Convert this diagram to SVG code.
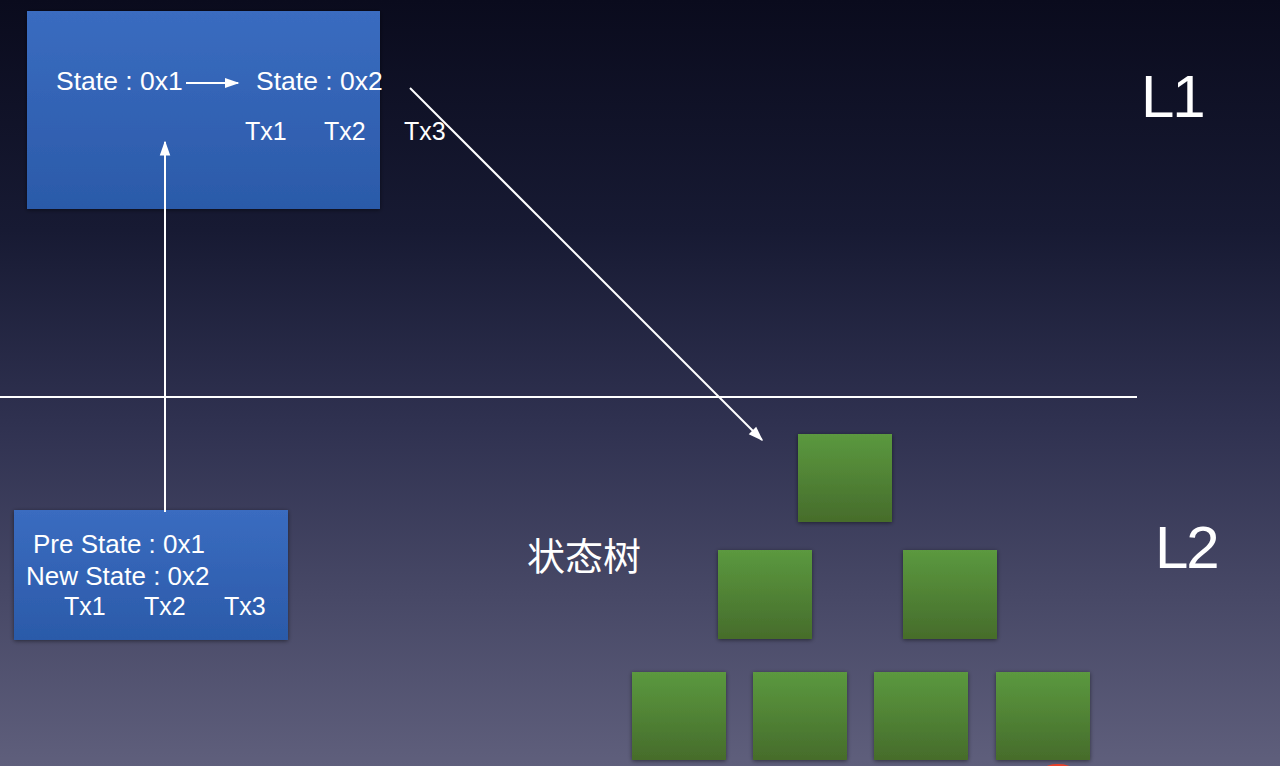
<svg xmlns="http://www.w3.org/2000/svg" width="1280" height="766" viewBox="0 0 1280 766">
<defs>
<linearGradient id="bg" x1="0" y1="0" x2="0" y2="1">
<stop offset="0" stop-color="#0a0b1d"/>
<stop offset="0.3" stop-color="#171a33"/>
<stop offset="0.55" stop-color="#2f3150"/>
<stop offset="1" stop-color="#5f5f7c"/>
</linearGradient>
<linearGradient id="blue" x1="0" y1="0" x2="0" y2="1">
<stop offset="0" stop-color="#3a6cc0"/>
<stop offset="1" stop-color="#2b5aa9"/>
</linearGradient>
<linearGradient id="green" x1="0" y1="0" x2="0" y2="1">
<stop offset="0" stop-color="#5b993f"/>
<stop offset="1" stop-color="#466c2b"/>
</linearGradient>
<filter id="sh" x="-20%" y="-20%" width="140%" height="140%">
<feDropShadow dx="0" dy="1" stdDeviation="2" flood-color="#000" flood-opacity="0.5"/>
</filter>
<marker id="ah2" viewBox="0 0 10 10" refX="9" refY="5" markerWidth="15" markerHeight="15" markerUnits="userSpaceOnUse" orient="auto">
<path d="M0,1.5 L10,5 L0,8.5 z" fill="#ffffff"/>
</marker>
<style>
.t{font-family:"Liberation Sans",Arial,sans-serif;fill:#ffffff;font-size:25px}
.s{font-size:26.5px}
.p{font-size:26px}
.big{font-family:"Liberation Sans",Arial,sans-serif;fill:#ffffff;font-size:60px;letter-spacing:-2px}
.cjk{font-family:"Noto Sans CJK SC",sans-serif;fill:#ffffff;font-size:38px}
.box{fill:url(#blue);filter:url(#sh)}
.leaf{fill:url(#green);filter:url(#sh)}
.ln{stroke:#ffffff;stroke-width:2;fill:none}
</style>
</defs>
<rect x="0" y="0" width="1280" height="766" fill="url(#bg)"/>

<g id="l1-box">
<rect class="box" x="27" y="11" width="353" height="198"/>
<text class="t s" x="56" y="90">State : 0x1</text>
<text class="t s" x="256" y="90">State : 0x2</text>
<text class="t" x="245" y="140">Tx1</text>
<text class="t" x="324" y="140">Tx2</text>
<text class="t" x="404" y="140">Tx3</text>
</g>

<g id="l2-box">
<rect class="box" x="14" y="510" width="274" height="130"/>
<text class="t p" x="33" y="553">Pre State : 0x1</text>
<text class="t p" x="26" y="585">New State : 0x2</text>
<text class="t" x="64" y="615">Tx1</text>
<text class="t" x="144" y="615">Tx2</text>
<text class="t" x="224" y="615">Tx3</text>
</g>

<g id="labels">
<text class="big" x="1141" y="117">L1</text>
<text class="big" x="1155" y="568">L2</text>
<text class="cjk" x="527" y="570">状态树</text>
</g>

<g id="tree">
<rect class="leaf" x="798" y="434" width="94" height="88"/>
<rect class="leaf" x="718" y="550" width="94" height="89"/>
<rect class="leaf" x="903" y="550" width="94" height="89"/>
<rect class="leaf" x="632" y="672" width="94" height="88"/>
<rect class="leaf" x="753" y="672" width="94" height="88"/>
<rect class="leaf" x="874" y="672" width="94" height="88"/>
<rect class="leaf" x="996" y="672" width="94" height="88"/>
</g>

<g id="connectors">
<line class="ln" x1="0" y1="397" x2="1137" y2="397"/>
<line class="ln" x1="186" y1="83" x2="238" y2="83" marker-end="url(#ah2)"/>
<line class="ln" x1="165" y1="512" x2="165" y2="142" marker-end="url(#ah2)"/>
<line class="ln" x1="410" y1="88" x2="762" y2="440" marker-end="url(#ah2)"/>
</g>

<ellipse cx="1058" cy="769" rx="14" ry="5" fill="#e8402a"/>
</svg>
